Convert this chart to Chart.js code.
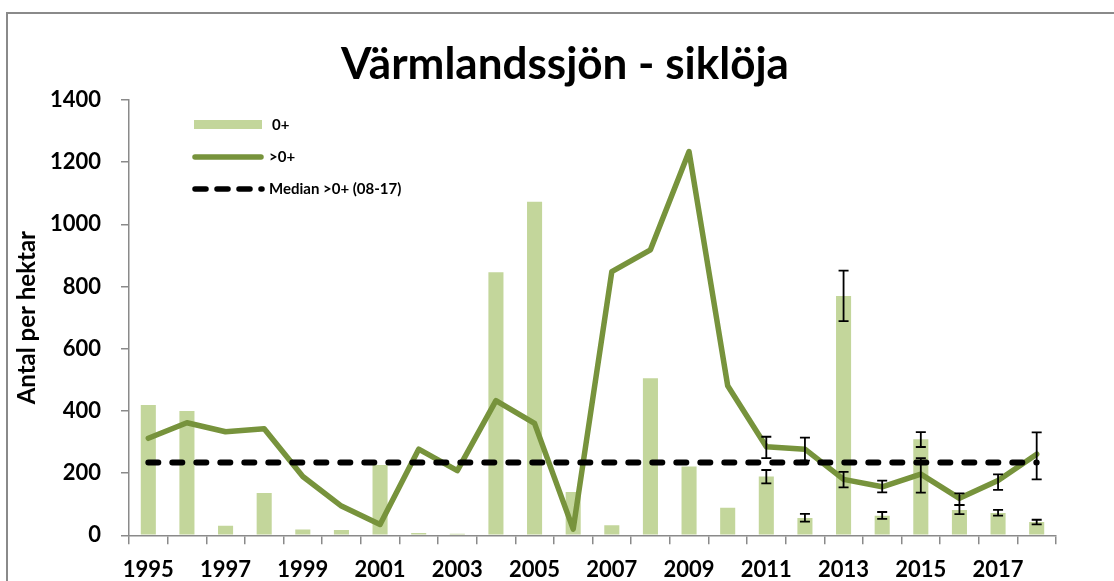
<!DOCTYPE html>
<html>
<head>
<meta charset="utf-8">
<script src="https://cdn.jsdelivr.net/npm/chart.js@4"></script>
<style>
  html, body { margin: 0; padding: 0; background: #ffffff; overflow: hidden; }
  #wrap { position: relative; width: 1114px; height: 581px; }
  #frame { position: absolute; left: 6px; top: 12px; width: 1300px; height: 800px; border: 2px solid #8a8a8a; box-sizing: border-box; }
  #c { position: absolute; left: 0; top: 0; }
</style>
</head>
<body>
<div id="wrap">
  <div id="frame"></div>
  <canvas id="c" width="1114" height="581"></canvas>
</div>
<script>
// ---- data ----
const categories = ['1995','1996','1997','1998','1999','2000','2001','2002','2003','2004','2005','2006',
                    '2007','2008','2009','2010','2011','2012','2013','2014','2015','2016','2017','2018'];
const youngValues = [419, 400, 31, 136, 19, 17, 226, 7, 5, 846, 1073, 139,
                     32, 505, 221, 89, 189, 56, 770, 63, 309, 81, 72, 43];
const olderValues = [312, 362, 333, 343, 189, 94, 35, 277, 208, 433, 360, 20,
                     848, 918, 1234, 481, 285, 277, 180, 156, 197, 119, 176, 261];
const medianValue = 234;
// error bars (low, high) for years 2011-2018
const errorYears = ['2011','2012','2013','2014','2015','2016','2017','2018'];
const youngErrLow  = [167, 44, 689, 53, 284, 68, 63, 35];
const youngErrHigh = [210, 69, 851, 75, 332, 97, 82, 50];
const olderErrLow  = [248, 240, 154, 138, 137, 98, 146, 180];
const olderErrHigh = [317, 314, 204, 176, 248, 135, 196, 331];
const yTicks = [0, 200, 400, 600, 800, 1000, 1200, 1400];
const seriesLabels = ['0+', '>0+', 'Median >0+ (08-17)'];

const BAR_COLOR = '#C3D69B';
const LINE_COLOR = '#77933C';
const FONT = 'Lato';

const errorBarPlugin = {
  id: 'errorBars',
  afterDatasetsDraw(chart) {
    const ctx = chart.ctx;
    const xs = chart.scales.x, ys = chart.scales.y;
    const sets = [[youngErrLow, youngErrHigh], [olderErrLow, olderErrHigh]];
    ctx.save();
    ctx.strokeStyle = '#000000';
    ctx.lineWidth = 1.8;
    ctx.lineCap = 'butt';
    sets.forEach(([lo, hi]) => {
      errorYears.forEach((yr, i) => {
        const x = xs.getPixelForValue(categories.indexOf(yr));
        const y1 = ys.getPixelForValue(lo[i]);
        const y2 = ys.getPixelForValue(hi[i]);
        const cw = 5;
        ctx.beginPath();
        ctx.moveTo(x, y1); ctx.lineTo(x, y2);
        ctx.moveTo(x - cw, y1); ctx.lineTo(x + cw, y1);
        ctx.moveTo(x - cw, y2); ctx.lineTo(x + cw, y2);
        ctx.stroke();
      });
    });
    ctx.restore();
  }
};

const legendPlugin = {
  id: 'customLegend',
  afterDraw(chart) {
    const ctx = chart.ctx;
    const L = chart.chartArea.left;
    ctx.save();
    ctx.font = 'bold 15px ' + FONT;
    ctx.fillStyle = '#000000';
    ctx.textBaseline = 'middle';
    ctx.textAlign = 'left';
    // 0+
    ctx.fillStyle = BAR_COLOR;
    ctx.fillRect(L + 65, 120, 68, 9);
    ctx.fillStyle = '#000000';
    ctx.fillText(seriesLabels[0], L + 143, 125);
    // >0+
    ctx.strokeStyle = LINE_COLOR;
    ctx.lineWidth = 5.5;
    ctx.lineCap = 'round';
    ctx.beginPath(); ctx.moveTo(L + 66, 157); ctx.lineTo(L + 132, 157); ctx.stroke();
    ctx.fillText(seriesLabels[1], L + 140, 157);
    // median
    ctx.strokeStyle = '#000000';
    ctx.lineWidth = 5.5;
    ctx.setLineDash([11, 11]);
    ctx.beginPath(); ctx.moveTo(L + 66, 189); ctx.lineTo(L + 133, 189); ctx.stroke();
    ctx.setLineDash([]);
    ctx.fillText(seriesLabels[2], L + 140, 189);
    ctx.restore();
  }
};

const titleShift = {
  id: 'titleShift',
  afterLayout(chart) {
    if (chart.titleBlock) { chart.titleBlock.left += 37; chart.titleBlock.right += 37; }
  }
};

new Chart(document.getElementById('c'), {
  data: {
    labels: categories,
    datasets: [
      {
        type: 'line',
        label: seriesLabels[2],
        data: [{x: categories[0], y: medianValue}, {x: categories[categories.length - 1], y: medianValue}],
        borderColor: '#000000',
        borderWidth: 6,
        borderDash: [10, 14],
        borderCapStyle: 'round',
        pointRadius: 0,
        tension: 0,
        order: 0
      },
      {
        type: 'line',
        label: seriesLabels[1],
        data: olderValues,
        borderColor: LINE_COLOR,
        borderWidth: 5.5,
        borderJoinStyle: 'round',
        borderCapStyle: 'round',
        pointRadius: 0,
        tension: 0,
        order: 1
      },
      {
        type: 'bar',
        label: seriesLabels[0],
        data: youngValues,
        backgroundColor: BAR_COLOR,
        borderWidth: 0,
        barPercentage: 0.39,
        categoryPercentage: 1.0,
        order: 2
      }
    ]
  },
  options: {
    responsive: false,
    animation: false,
    devicePixelRatio: 1,
    layout: { padding: { left: 0, right: 58, top: 0, bottom: 0 } },
    plugins: {
      legend: { display: false },
      tooltip: { enabled: false },
      title: {
        display: true,
        text: 'Värmlandssjön - siklöja',
        color: '#000000',
        font: { family: FONT, size: 44, weight: 'bold', lineHeight: 1.2 },
        padding: { top: 38, bottom: 9.2 }
      }
    },
    scales: {
      x: {
        type: 'category',
        offset: true,
        afterFit(scale) { scale.height = 45.7; },
        grid: { display: true, drawOnChartArea: false, drawTicks: true, tickLength: 9, offset: true, color: '#8a8a8a', lineWidth: 1.5 },
        border: { display: true, color: '#8a8a8a', width: 1.5 },
        ticks: {
          autoSkip: false, maxRotation: 0, minRotation: 0,
          color: '#000000', padding: 12,
          font: { family: FONT, size: 22, weight: 'bold' },
          callback(v, i) { return i % 2 === 0 ? categories[i] : ''; }
        }
      },
      y: {
        min: 0, max: 1400,
        afterFit(scale) { scale.width = 129; },
        afterBuildTicks(scale) { scale.ticks = yTicks.map(v => ({ value: v })); },
        grid: { display: true, drawOnChartArea: false, drawTicks: true, tickLength: 8, color: '#8a8a8a', lineWidth: 1.5 },
        border: { display: true, color: '#8a8a8a', width: 1.5 },
        ticks: {
          color: '#000000', padding: 20,
          font: { family: FONT, size: 22, weight: 'bold' },
          callback(v) { return String(v); }
        },
        title: {
          display: true, text: 'Antal per hektar', color: '#000000',
          font: { family: FONT, size: 24, weight: 'bold', lineHeight: 1.2 },
          padding: { top: 13, bottom: 0 }
        }
      }
    }
  },
  plugins: [errorBarPlugin, legendPlugin, titleShift]
});
</script>
</body>
</html>
